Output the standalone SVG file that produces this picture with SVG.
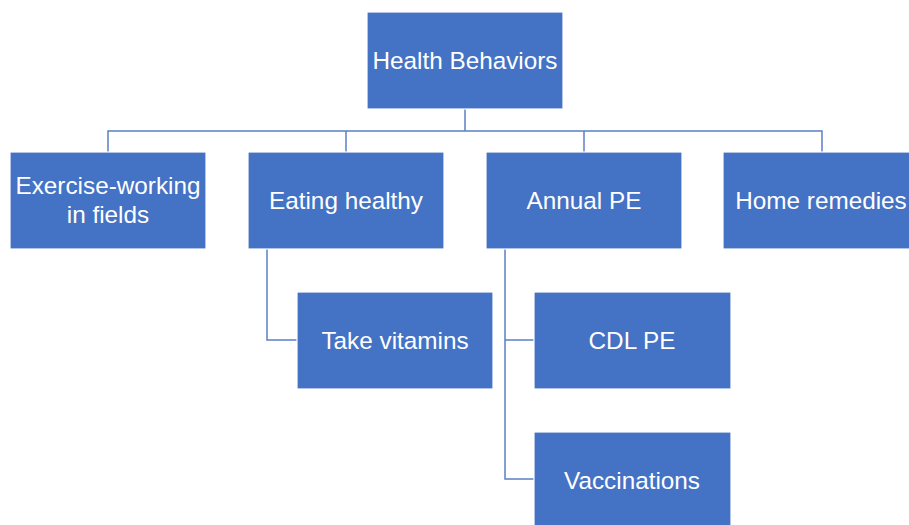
<svg xmlns="http://www.w3.org/2000/svg" width="909" height="525" viewBox="0 0 909 525">
<style>
.box{fill:#4472C4;stroke:#ffffff;stroke-width:1.2}
.lbl{fill:#ffffff;font-family:"Liberation Sans",Arial,sans-serif;font-size:24.3px;text-anchor:middle;dominant-baseline:central}
.conn{fill:none;stroke:#5B7FC4;stroke-width:1.5}
</style>
<rect width="909" height="525" fill="#ffffff"/>
<g id="connectors">
<path class="conn" d="M465 109 V131"/>
<path class="conn" d="M108 152 V131 H822 V152"/>
<path class="conn" d="M346 131 V152"/>
<path class="conn" d="M584 131 V152"/>
<path class="conn" d="M267 249 V340 H297"/>
<path class="conn" d="M505 249 V479 H534"/>
<path class="conn" d="M505 340 H534"/>
</g>
<g id="health-behaviors">
<rect class="box" x="367" y="12" width="196" height="97"/>
<text class="lbl" x="465" y="60">Health Behaviors</text>
</g>
<g id="exercise">
<rect class="box" x="10" y="152" width="196" height="97"/>
<text class="lbl" x="108" y="185">Exercise-working</text>
<text class="lbl" x="108" y="214">in fields</text>
</g>
<g id="eating-healthy">
<rect class="box" x="248" y="152" width="196" height="97"/>
<text class="lbl" x="346" y="200">Eating healthy</text>
</g>
<g id="annual-pe">
<rect class="box" x="486" y="152" width="196" height="97"/>
<text class="lbl" x="584" y="200">Annual PE</text>
</g>
<g id="home-remedies">
<rect class="box" x="723" y="152" width="196" height="97"/>
<text class="lbl" x="821" y="200">Home remedies</text>
</g>
<g id="take-vitamins">
<rect class="box" x="297" y="292" width="196" height="97"/>
<text class="lbl" x="395" y="340">Take vitamins</text>
</g>
<g id="cdl-pe">
<rect class="box" x="534" y="292" width="197" height="97"/>
<text class="lbl" x="632" y="340">CDL PE</text>
</g>
<g id="vaccinations">
<rect class="box" x="534" y="432" width="197" height="97"/>
<text class="lbl" x="632" y="480">Vaccinations</text>
</g>
</svg>
